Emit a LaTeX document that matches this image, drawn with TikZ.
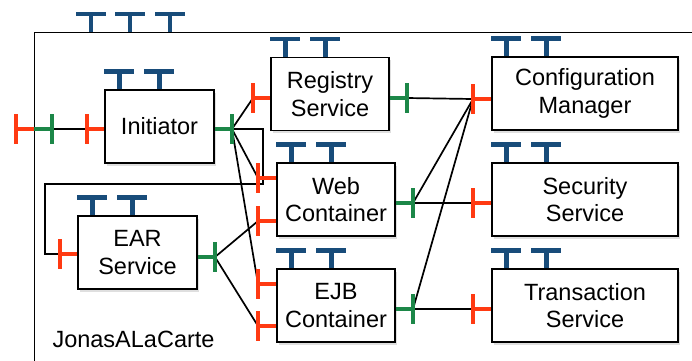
\documentclass[tikz,border=0pt]{standalone}
\usepackage{fontspec}
\setmainfont{Liberation Sans}
\usetikzlibrary{shadows}

\definecolor{reqred}{RGB}{255,58,18}
\definecolor{provgreen}{RGB}{28,135,72}
\definecolor{ifblue}{RGB}{24,76,122}

\tikzset{
  comp/.style={draw=black, line width=1.2pt, fill=white, align=center, inner sep=0pt,
    minimum width=118pt, minimum height=73pt, font=\fontsize{23.5}{27.5}\selectfont,
    drop shadow={shadow xshift=1.5pt, shadow yshift=-2.5pt, opacity=.25}},
  wire/.style={line width=1.7pt, black},
  req/.style={line width=3.5pt, reqred},
  prov/.style={line width=3.5pt, provgreen},
  iface/.pic={
    \draw[line width=4.2pt, ifblue] (0,0) -- (0,-18);
    \draw[line width=4.2pt, ifblue] (-15,-18) -- (15,-18);
  }
}

\begin{document}
\begin{tikzpicture}[x=1pt,y=-1pt]
  \useasboundingbox (0,0) rectangle (692,360);
  \fill[white] (0,0) rectangle (692,360);
  \clip (0,0) rectangle (692,360);

  %% outer composite
  \node[draw, line width=1.2pt, minimum width=720pt, minimum height=400pt,
        anchor=north west, inner sep=0pt] (carte) at (34,32) {};
  \node[anchor=base west, font=\fontsize{23.5}{27.5}\selectfont] (cartelabel) at (49,347) {JonasALaCarte};
  \foreach \x in {91,130,170} \pic at (\x,32) {iface};

  %% components
  \node[comp, minimum width=109pt] (init) at (159.5,126.5) {Initiator};
  \node[comp] (reg) at (330,94) {Registry\\Service};
  \node[comp] (web) at (336,199.5) {Web\\Container};
  \node[comp] (ejb) at (336,305.5) {EJB\\Container};
  \node[comp, minimum width=119pt] (ear) at (137.5,252.5) {EAR\\Service};
  \node[comp, minimum width=186pt] (conf) at (585,93.5) {Configuration\\Manager};
  \node[comp, minimum width=186pt] (sec) at (585,199.5) {Security\\Service};
  \node[comp, minimum width=186pt] (trans) at (585,305.5) {Transaction\\Service};

  \foreach \b in {init,reg,web,ejb,ear,conf,sec,trans}
    \foreach \d in {15,55} \pic at ([xshift=\d pt]\b.north west) {iface};

  %% port ends
  \coordinate (carteR) at (16,129);
  \coordinate (carteP) at (52,129);
  \coordinate (initR) at (87,129);
  \coordinate (initP) at (232,129);
  \coordinate (regR) at (253,98);
  \coordinate (regP) at (407,98);
  \coordinate (webRa) at (258,178);
  \coordinate (webRb) at (258,221);
  \coordinate (webP) at (413,203);
  \coordinate (ejbRa) at (258,284);
  \coordinate (ejbRb) at (258,326);
  \coordinate (ejbP) at (413,309);
  \coordinate (earR) at (60,254);
  \coordinate (earP) at (215,257);
  \coordinate (confR) at (473,99);
  \coordinate (secR) at (473,203);
  \coordinate (transR) at (473,309);

  %% wires
  \draw[wire] (carteP) -- (initR);
  \draw[wire] (initP) -- (regR);
  \draw[wire] (initP) -- (webRa);
  \draw[wire] (initP) -- (ejbRa);
  \draw[wire] (initP) -- ++(31,0) |- (45,184) |- (earR);
  \draw[wire] (earP) -- (webRb);
  \draw[wire] (earP) -- (ejbRb);
  \draw[wire] (regP) -- (confR);
  \draw[wire] (webP) -- (confR);
  \draw[wire] (webP) -- (secR);
  \draw[wire] (ejbP) -- (confR);
  \draw[wire] (ejbP) -- (transR);

  %% required ports (red)
  \foreach \p/\b in {initR/init, regR/reg, webRa/web, webRb/web, ejbRa/ejb, ejbRb/ejb,
                     earR/ear, confR/conf, secR/sec, transR/trans} {
    \draw[req] (\p) -- (\p -| \b.west);
    \draw[req] ([yshift=15pt]\p) -- ([yshift=-15pt]\p);
  }
  \draw[req] (carteR) -- (carteR -| carte.west);
  \draw[req] ([yshift=15pt]carteR) -- ([yshift=-15pt]carteR);

  %% provided ports (green)
  \foreach \p/\b in {initP/init, regP/reg, webP/web, ejbP/ejb, earP/ear} {
    \draw[prov] (\p) -- (\p -| \b.east);
    \draw[prov] ([yshift=15pt]\p) -- ([yshift=-15pt]\p);
  }
  \draw[prov] (carteP) -- (carteP -| carte.west);
  \draw[prov] ([yshift=15pt]carteP) -- ([yshift=-15pt]carteP);
\end{tikzpicture}
\end{document}
